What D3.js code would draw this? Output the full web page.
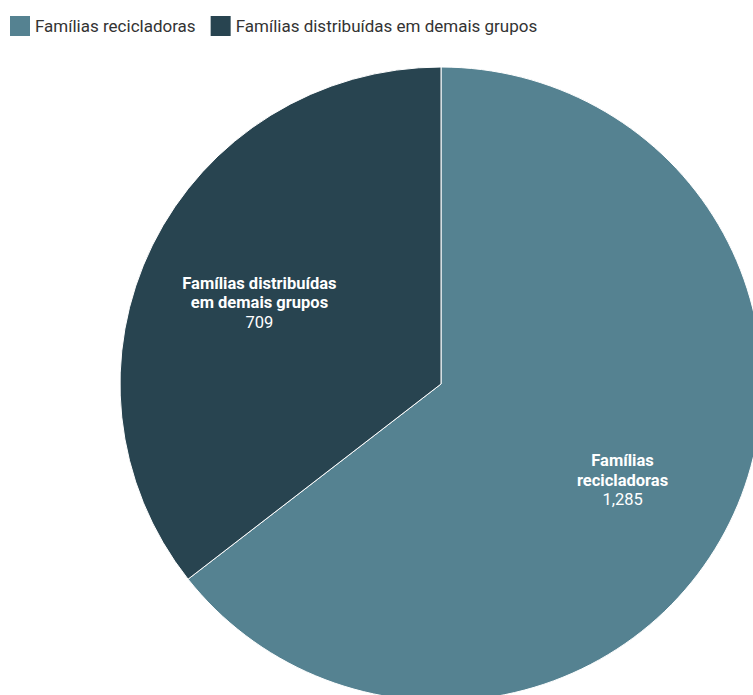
<!DOCTYPE html>
<html><head><meta charset="utf-8">
<script src="https://cdn.jsdelivr.net/npm/d3@7"></script>
<style>
html,body{margin:0;padding:0;background:#fff;overflow:hidden}
svg{display:block;font-family:Roboto,"Noto Sans",sans-serif}
</style></head>
<body>
<svg id="chart" width="753" height="695"></svg>
<script>
const categories = ["Famílias recicladoras", "Famílias distribuídas em demais grupos"];
const values = [1285, 709];
const labelLines = [["Famílias", "recicladoras"], ["Famílias distribuídas", "em demais grupos"]];
const valueLabels = ["1,285", "709"];
const colors = ["#558291", "#284450"];

const svg = d3.select("#chart");
const cx = 441, cy = 384, r = 321, yScale = 0.9875;

const data = categories.map((c, i) => ({cat: c, value: values[i], lines: labelLines[i], vlabel: valueLabels[i], i}));
const pie = d3.pie().value(d => d.value).sort(null);
const arcs = pie(data);
const arc = d3.arc().innerRadius(0).outerRadius(r);
const labelArc = d3.arc().innerRadius(202).outerRadius(202);
const color = d3.scaleOrdinal().domain(categories).range(colors);

const g = svg.append("g").attr("transform", `translate(${cx},${cy}) scale(1,${yScale})`);
g.selectAll("path").data(arcs).join("path")
  .attr("d", arc)
  .attr("fill", d => color(d.data.cat))
  .attr("stroke", "#ffffff")
  .attr("stroke-width", 1);

const gl = svg.append("g").attr("transform", `translate(${cx},${cy})`);
const lbl = gl.selectAll("text.lbl").data(arcs).join("text")
  .attr("class", "lbl")
  .attr("text-anchor", "middle")
  .attr("fill", "#ffffff")
  .attr("font-size", 16.5)
  .attr("transform", d => {
    const [x, y] = labelArc.centroid(d);
    return `translate(${x},${y})`;
  });
lbl.each(function(d) {
  const t = d3.select(this);
  const n = d.data.lines.length + 1;
  const lh = 19.5;
  const start = -(n - 1) * lh / 2 + 13;
  d.data.lines.forEach((line, k) => {
    t.append("tspan").attr("x", 0).attr("y", start + k * lh).attr("font-weight", 700).text(line);
  });
  t.append("tspan").attr("x", 0).attr("y", start + (n - 1) * lh).attr("font-weight", 400).text(d.data.vlabel);
});

// legend
const legend = svg.append("g").attr("transform", "translate(10,16)");
let xoff = 0;
categories.forEach((c, i) => {
  const item = legend.append("g").attr("transform", `translate(${xoff},0)`);
  item.append("rect").attr("width", 20).attr("height", 20).attr("fill", color(c));
  const t = item.append("text").attr("x", 25).attr("y", 16)
    .attr("font-size", 17).attr("fill", "#333333").text(c);
  const w = t.node().getComputedTextLength();
  xoff += 25 + w + 15;
});
</script>
</body></html>
